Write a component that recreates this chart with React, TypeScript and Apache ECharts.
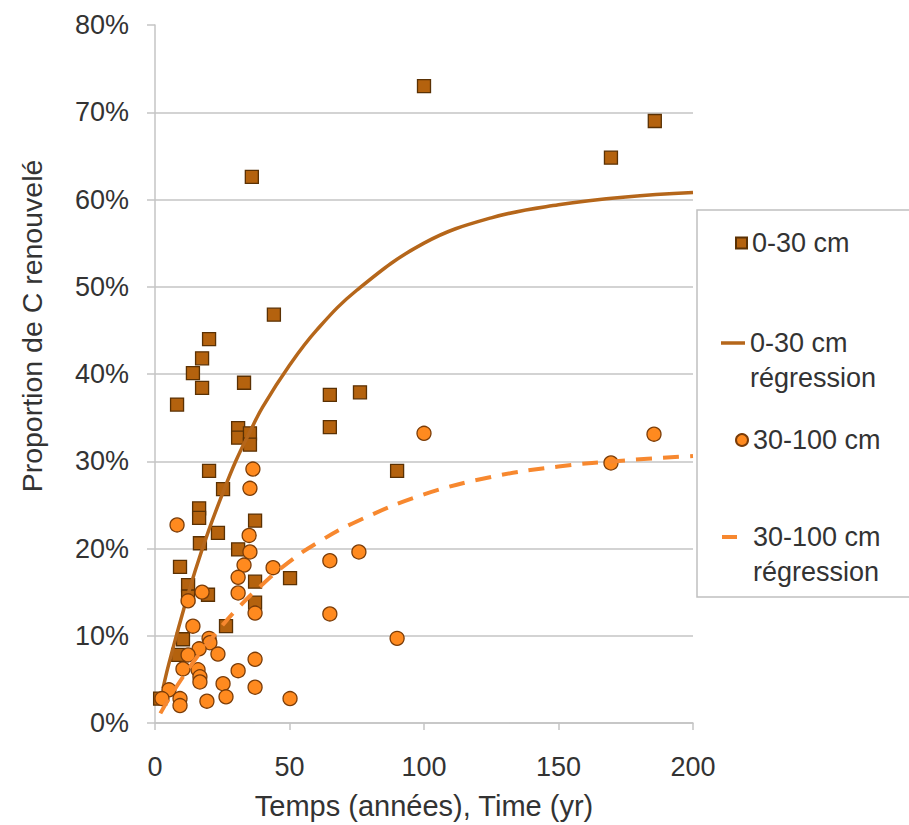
import React, { useEffect, useRef } from "react";
import * as echarts from "echarts";

// 0-30 cm observations: [time (yr), proportion of renewed C (%)]
const topsoilPoints: number[][] = [
  [100, 73.0], [185.8, 69.0], [169.5, 64.8], [36, 62.6], [44.2, 46.8], [20.1, 44.0],
  [17.5, 41.8], [14.1, 40.1], [17.5, 38.4], [8.2, 36.5], [33.1, 39.0], [65, 37.6],
  [76.2, 37.9], [65, 33.9], [30.9, 33.8], [30.9, 32.7], [35.3, 33.2], [35.3, 31.9],
  [90, 28.9], [20.1, 28.9], [25.3, 26.8], [16.4, 24.6], [16.4, 23.5], [37.2, 23.2],
  [23.4, 21.8], [16.7, 20.6], [30.9, 19.9], [9.3, 17.9], [50.2, 16.6], [37.2, 16.2],
  [12.3, 15.8], [12.3, 14.5], [19.7, 14.7], [37.2, 13.8], [26.4, 11.1], [10.4, 9.6],
  [8.6, 7.8], [1.9, 2.8],
];

// 30-100 cm observations
const subsoilPoints: number[][] = [
  [100, 33.2], [185.5, 33.1], [169.5, 29.8], [36.4, 29.1], [35.3, 26.9], [8.2, 22.7],
  [35, 21.5], [35.3, 19.6], [33.1, 18.1], [43.9, 17.8], [65, 18.6], [75.8, 19.6],
  [30.9, 16.7], [17.5, 15.0], [30.9, 14.9], [12.3, 14.0], [37.2, 12.6], [65, 12.5],
  [14.1, 11.1], [90, 9.7], [20.1, 9.7], [20.4, 9.2], [16.4, 8.5], [12.3, 7.8],
  [23.4, 7.9], [37.2, 7.3], [10.4, 6.2], [16, 6.1], [16.7, 5.3], [16.7, 4.7],
  [30.9, 6.0], [25.3, 4.5], [37.2, 4.1], [5.2, 3.8], [2.6, 2.8], [9.3, 2.8],
  [9.3, 2.0], [19.3, 2.5], [26.4, 3.0], [50.2, 2.8],
];

// regression curves
const regTopTimes = [3, 5, 10, 15, 20, 25, 30, 35, 40, 50, 60, 75, 100, 125, 150, 175, 200];
const regTopValues = [4.0, 6.6, 12.3, 17.5, 22.1, 26.2, 30.0, 33.2, 36.2, 41.0, 45.0, 49.6, 55.0, 57.9, 59.4, 60.3, 60.8];
const regSubTimes = [2, 5, 10, 15, 20, 30, 40, 50, 60, 75, 100, 125, 150, 175, 200];
const regSubValues = [1.1, 2.7, 5.1, 7.3, 9.3, 12.9, 15.9, 18.5, 20.6, 23.1, 26.2, 28.2, 29.4, 30.1, 30.6];

const seriesNames = ["0-30 cm", "0-30 cm régression", "30-100 cm", "30-100 cm régression"];

const FONT = "'Liberation Sans', Arial, sans-serif";
const TEXT = "#333333";
const GRID = "#c4c4c4";

export default function App() {
  const ref = useRef<HTMLDivElement>(null);
  useEffect(() => {
    if (!ref.current) return;
    const chart = echarts.init(ref.current, undefined, { renderer: "svg" });
    const legendText = {
      fontSize: 27,
      color: TEXT,
      fontFamily: FONT,
      lineHeight: 35,
    };
    // two-line entries: a leading blank line keeps the first line level with the icon
    const fmt = (name: string) =>
      name.indexOf(" régression") >= 0 ? "\u00a0\n" + name.replace(" régression", "\nrégression") : name;
    chart.setOption({
      animation: false,
      textStyle: { fontFamily: FONT },
      grid: { left: 155, right: 216, top: 25, bottom: 102, containLabel: false },
      xAxis: {
        type: "value",
        min: 0,
        max: 200,
        interval: 50,
        name: "Temps (années), Time (yr)",
        nameLocation: "middle",
        nameGap: 68,
        nameTextStyle: { fontSize: 29, color: TEXT, fontFamily: FONT },
        axisLine: { show: true, lineStyle: { color: GRID, width: 1.5 } },
        axisTick: { show: true, length: 7, lineStyle: { color: GRID, width: 1.5 } },
        axisLabel: { fontSize: 27, color: TEXT, margin: 30, fontFamily: FONT },
        splitLine: { show: false },
      },
      yAxis: {
        type: "value",
        min: 0,
        max: 80,
        interval: 10,
        name: "Proportion de C renouvelé",
        nameLocation: "middle",
        nameGap: 109,
        nameTextStyle: { fontSize: 28.5, color: TEXT, fontFamily: FONT, padding: [0, 0, 0, 96] },
        axisLine: { show: true, lineStyle: { color: GRID, width: 1.5 } },
        axisTick: { show: true, length: 8, lineStyle: { color: GRID, width: 1.5 } },
        axisLabel: { fontSize: 27, color: TEXT, margin: 26, formatter: "{value}%", fontFamily: FONT },
        splitLine: { show: true, showMaxLine: false, lineStyle: { color: GRID, width: 1.5 } },
      },
      graphic: [
        {
          type: "rect",
          shape: { x: 697, y: 210, width: 240, height: 387 },
          style: { fill: "#ffffff", stroke: "#c0c0c0", lineWidth: 1.5 },
          z: -1,
        },
      ],
      legend: [
        {
          data: [seriesNames[0]], orient: "vertical", left: 735, top: 225.5, padding: 0,
          itemWidth: 11, itemHeight: 11, textStyle: legendText, formatter: fmt,
        },
        {
          data: [{ name: seriesNames[1], icon: "rect" }], orient: "vertical", left: 721, top: 290.5, padding: 0,
          itemWidth: 24, itemHeight: 3.5, textStyle: legendText, formatter: fmt,
        },
        {
          data: [seriesNames[2]], orient: "vertical", left: 735, top: 422.5, padding: 0,
          itemWidth: 12, itemHeight: 12, textStyle: legendText, formatter: fmt,
        },
        {
          data: [{ name: seriesNames[3], icon: "rect" }], orient: "vertical", left: 722, top: 484.5, padding: 0,
          itemWidth: 15, itemHeight: 4, textStyle: { ...legendText, padding: [0, 0, 0, 11] }, formatter: fmt,
        },
      ],
      series: [
        {
          name: seriesNames[0],
          type: "scatter",
          symbol: "rect",
          symbolSize: 13,
          data: topsoilPoints,
          itemStyle: { color: "#B4620E", borderColor: "#5A3104", borderWidth: 1.3, opacity: 1 },
          z: 2,
        },
        {
          name: seriesNames[1],
          type: "line",
          data: regTopTimes.map((t, i) => [t, regTopValues[i]]),
          smooth: 0.4,
          symbol: "none",
          lineStyle: { color: "#B5661A", width: 3.5 },
          itemStyle: { color: "#B5661A" },
          z: 3,
        },
        {
          name: seriesNames[2],
          type: "scatter",
          symbol: "circle",
          symbolSize: 14,
          data: subsoilPoints,
          itemStyle: { color: "#FF8A1F", borderColor: "#7A3C08", borderWidth: 1.3, opacity: 1 },
          z: 4,
        },
        {
          name: seriesNames[3],
          type: "line",
          data: regSubTimes.map((t, i) => [t, regSubValues[i]]),
          smooth: 0.4,
          symbol: "none",
          lineStyle: { color: "#F7882F", width: 4, type: [16, 11] },
          itemStyle: { color: "#F7882F" },
          z: 5,
        },
      ],
    });
    return () => chart.dispose();
  }, []);
  return <div ref={ref} style={{ width: 909, height: 825, position: "absolute", left: 0, top: 0 }} />;
}
